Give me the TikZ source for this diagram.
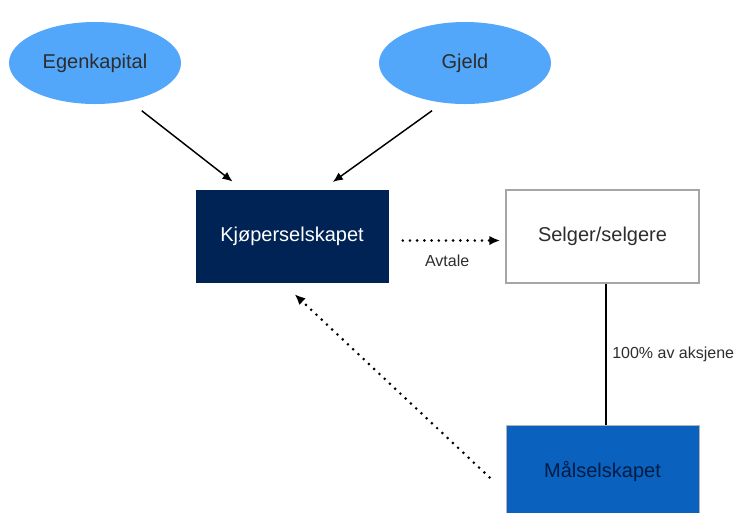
\documentclass[tikz,border=0pt]{standalone}
\usepackage{fontspec}
\setmainfont{Liberation Sans}
\usetikzlibrary{calc,shapes.geometric,arrows.meta}

\definecolor{skyblue}{RGB}{82,167,250}
\definecolor{navyblue}{RGB}{0,35,85}
\definecolor{midblue}{RGB}{10,98,190}
\definecolor{txtgray}{RGB}{45,45,45}

\tikzset{
  owner/.style={ellipse,fill=skyblue,minimum width=129pt,minimum height=61.5pt,
    text=txtgray,font=\fontsize{15}{18}\selectfont},
  company/.style={rectangle,minimum width=144.75pt,minimum height=69.75pt,
    font=\fontsize{15}{18}\selectfont},
  small/.style={font=\fontsize{12}{14}\selectfont,text=txtgray},
  dots/.style={line width=2.2pt,line cap=round,dash pattern=on 0pt off 5.4pt,
    -{Latex[length=8pt,width=7pt,line cap=butt]}},
  flow/.style={line width=1.1pt,-{Latex[length=7.5pt,width=6.5pt]}}
}

\begin{document}
\begin{tikzpicture}[x=0.75pt,y=-0.75pt]
  \useasboundingbox (0,0) rectangle (737,512);

  % owners of the buyer
  \node[owner] (ek) at (95,63) {Egenkapital};
  \node[owner] (gj) at (465,63) {Gjeld};

  % companies
  \node[company,fill=navyblue,text=white] (kj) at (292,236.5) {Kjøperselskapet};
  \node[company,draw=gray!70,line width=0.8pt,fill=white,text=txtgray] (sl) at (602.5,236.5) {Selger/selgere};
  \node[company,draw=gray!60,line width=0.6pt,fill=midblue,text=navyblue!80!black] (ms) at (602.5,471.5) {Målselskapet};

  % financing
  \draw[flow,shorten <=12pt,shorten >=10pt] (ek.-48) -- ([xshift=-36.75pt]kj.north);
  \draw[flow,shorten <=10pt,shorten >=10pt] (gj.-119) -- ([xshift=22.5pt]kj.north);

  % agreement and shares
  \draw[dots,shorten <=10.5pt,shorten >=4pt] ([yshift=-3pt]kj.east) -- ([yshift=-3pt]sl.west)
    node[small,midway,below=6pt] {Avtale};
  \draw[line width=1pt] ([xshift=2.5pt]sl.south) -- ([xshift=2.5pt]ms.north)
    node[small,midway,right=1pt] {100\% av aksjene};
  \draw[dots,shorten <=16.5pt,shorten >=12pt] ([yshift=-15.75pt]ms.west) -- ([xshift=-6.75pt]kj.south);
\end{tikzpicture}
\end{document}
